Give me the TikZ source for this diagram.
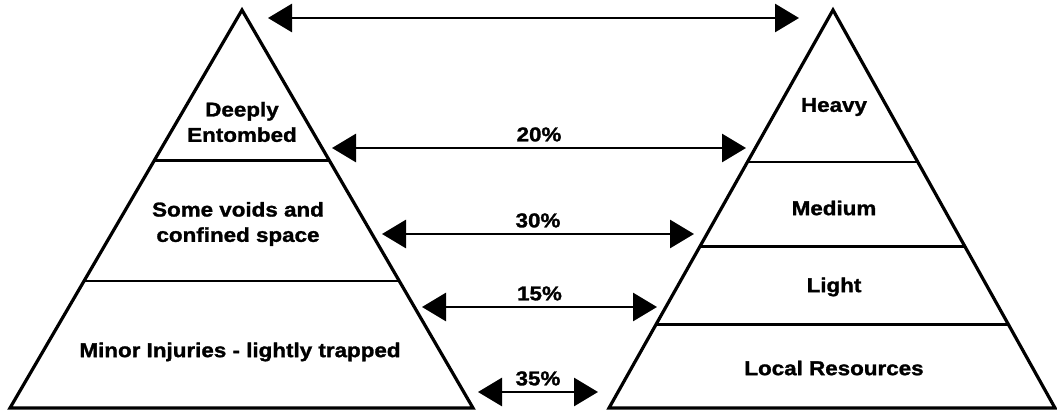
\documentclass[tikz,border=0pt]{standalone}
\usepackage{fontspec}
\setmainfont{Liberation Sans}
\newfontfamily\heavyfont[FakeStretch=1.12,FakeBold=1.4]{Liberation Sans Bold}
\usetikzlibrary{arrows.meta,calc}

\tikzset{every picture/.style={line width=2.4pt}}
\tikzset{
  level/.style={font=\heavyfont\fontsize{15}{19}\selectfont, align=center, inner sep=0.75pt},
  pct/.style={font=\heavyfont\fontsize{15}{18}\selectfont, inner sep=0.75pt, above=3pt},
  link/.style={{Triangle[length=18pt,width=21pt]}-{Triangle[length=18pt,width=21pt]}, line width=2.2pt}
}

\begin{document}
\begin{tikzpicture}[x=0.75pt,y=0.75pt,yscale=-1,xscale=1]
	%set diagram size to 1057 x 410
	\useasboundingbox (0,0) rectangle (1057,410);

	%Shape: Triangle (casualties)
	\coordinate (LA) at (242,10);
	\coordinate (LB) at (10,408);
	\coordinate (LC) at (473,408);
	\draw [line join=miter] (LA) -- (LB) -- (LC) -- cycle;
	\foreach \t in {0.379,0.681}
		\draw [line width=2.1pt] ($(LA)!\t!(LB)$) -- ($(LA)!\t!(LC)$);

	%Shape: Triangle (rescue)
	\coordinate (RA) at (833,10);
	\coordinate (RB) at (609,408);
	\coordinate (RC) at (1055,408);
	\draw [line join=miter] (RA) -- (RB) -- (RC) -- cycle;
	\foreach \t in {0.382,0.595,0.791}
		\draw [line width=2.1pt] ($(RA)!\t!(RB)$) -- ($(RA)!\t!(RC)$);

	%Labels
	\node [level] (deep) at (242,122) {Deeply\\Entombed};
	\node [level] (voids) at (238,224) {Some voids and\\confined space};
	\node [level] (minor) at (240,352) {Minor Injuries - lightly trapped};
	\node [level] (heavy) at (834,107) {Heavy};
	\node [level] (medium) at (834,208) {Medium};
	\node [level] (light) at (834,287) {Light};
	\node [level] (local) at (834,368) {Local Resources};

	%Arrow ends
	\coordinate (top-l) at (268,18);  \coordinate (top-r) at (799,18);
	\coordinate (a1-l) at (332,148);  \coordinate (a1-r) at (746,148);
	\coordinate (a2-l) at (382,234);  \coordinate (a2-r) at (694,234);
	\coordinate (a3-l) at (422,307);  \coordinate (a3-r) at (657,307);
	\coordinate (a4-l) at (478,392);  \coordinate (a4-r) at (598,392);

	%Arrows
	\draw [link] (top-l) -- (top-r);
	\draw [link] (a1-l) -- node [pct] (p1) {20\%} (a1-r);
	\draw [link] (a2-l) -- node [pct] (p2) {30\%} (a2-r);
	\draw [link] (a3-l) -- node [pct] (p3) {15\%} (a3-r);
	\draw [link] (a4-l) -- node [pct] (p4) {35\%} (a4-r);

\end{tikzpicture}
\end{document}
